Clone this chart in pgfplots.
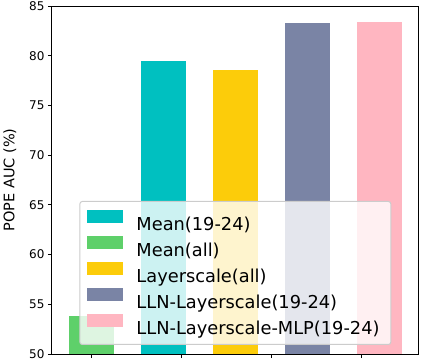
\documentclass[border=0pt]{standalone}
\usepackage{fontspec}
\setmainfont{DejaVu Sans}
\usepackage{pgfplots}
\pgfplotsset{compat=1.18}
\definecolor{cteal}{RGB}{0,192,192}
\definecolor{cgreen}{RGB}{94,208,106}
\definecolor{cgold}{RGB}{252,204,10}
\definecolor{cslate}{RGB}{122,132,165}
\definecolor{cpink}{RGB}{255,182,193}
\definecolor{cframe}{RGB}{204,204,204}
\pgfplotsset{
  mybar/.style={ybar, bar width=0.5, bar shift=0pt, draw=none, fill=#1,
    legend image code/.code={\fill[fill=#1, fill opacity=1, draw=none, sharp corners] (0bp,1.2bp) rectangle (36bp,14bp);}},
}
\begin{document}
\begin{tikzpicture}
\useasboundingbox (-52bp,-8bp) rectangle (370bp,354bp);
\begin{axis}[
  at={(0,0)}, anchor=south west,
  scale only axis, width=366.7bp, height=348bp,
  xmin=-0.435, xmax=3.635, ymin=50, ymax=85,
  xtick={0,1,2,3}, xticklabels={},
  ytick={50,55,...,85},
  xtick pos=left, ytick pos=left,
  tick align=outside, major tick length=4bp,
  tick style={black, line width=1bp},
  axis line style={black, line width=1bp},
  /pgf/number format/assume math mode=true,
  yticklabel style={font=\fontsize{12bp}{14bp}\selectfont},
  ylabel={POPE AUC (\%)},
  every axis y label/.style={at={(axis description cs:-0.115,0.5)}, rotate=90, anchor=center, font=\fontsize{14.5bp}{17bp}\selectfont},
  legend cell align=left,
  legend style={at={(axis description cs:0.5,0.0259)}, anchor=south,
    fill=white, fill opacity=0.8, draw opacity=1, text opacity=1,
    draw=cframe, line width=1bp, rounded corners=2.5bp,
    inner xsep=7.3bp, inner ysep=9bp,
    font=\fontsize{17.8bp}{20bp}\selectfont,
    nodes={inner sep=0pt, text height=13bp, text depth=1bp},
    /tikz/column sep=13.3bp, /tikz/row sep=5bp},
]
\addplot[mybar=cteal] coordinates {(0.8,79.47)};
\addplot[mybar=cgreen] coordinates {(0,53.82)};
\addplot[mybar=cgold] coordinates {(1.6,78.56)};
\addplot[mybar=cslate] coordinates {(2.4,83.29)};
\addplot[mybar=cpink] coordinates {(3.2,83.39)};
\legend{Mean(19-24),Mean(all),Layerscale(all),LLN-Layerscale(19-24),LLN-Layerscale-MLP(19-24)\hspace*{4bp}}
\end{axis}
\end{tikzpicture}
\end{document}
